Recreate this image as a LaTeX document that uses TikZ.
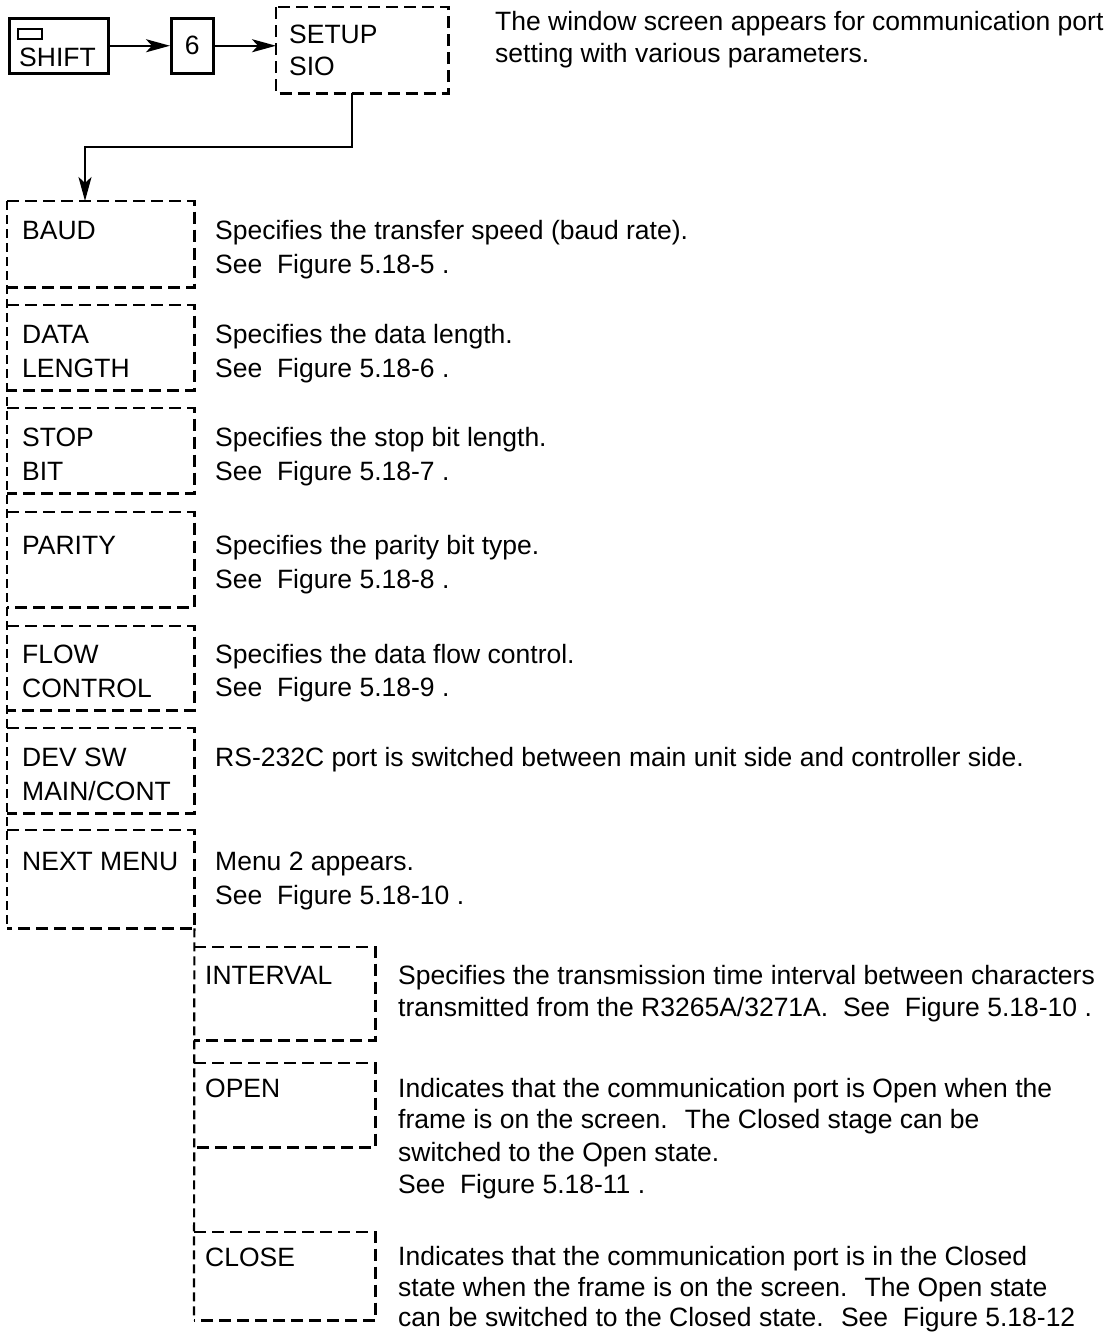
\documentclass[tikz,border=0pt]{standalone}
\usepackage{fontspec}
\setmainfont{Liberation Sans}
\usetikzlibrary{arrows.meta}
\begin{document}
\begin{tikzpicture}[x=1pt,y=-1pt,
  dsh/.style={line width=2.4pt, dash pattern=on 12pt off 6pt},
  trunk/.style={line width=2.2pt, dash pattern=on 9pt off 5pt},
  solidbox/.style={draw, line width=2.5pt, inner sep=0pt, anchor=north west},
  boxarea/.style={inner sep=0pt, anchor=north west},
  txt/.style={anchor=base west, inner sep=0pt, font=\fontsize{26.5}{33}\selectfont},
  arr/.style={line width=2.5pt, -{Stealth[length=24pt,width=13pt,inset=6pt]}}]

\fill[white] (0,0) rectangle (1112,1333);
\useasboundingbox (0,0) rectangle (1112,1333);

% ---------- top row ----------
\node[solidbox, minimum width=99pt, minimum height=55pt] (shift) at (8,17) {};
\draw[line width=2.5pt] (18,29) rectangle (42,39);
\node[txt] (shifttxt) at (19,66) {SHIFT};

\node[solidbox, minimum width=42pt, minimum height=55pt, font=\fontsize{26.5}{33}\selectfont] (six) at (170,17) {6};

\node[boxarea, minimum width=172pt, minimum height=86pt] (setup) at (276,7) {};
\draw[dsh] (setup.north west) rectangle (setup.south east);
\node[txt] (setupa) at (289,43) {SETUP};
\node[txt] (setupb) at (289,75) {SIO};

\node[txt] (topa) at (495,30) {The window screen appears for communication port};
\node[txt] (topb) at (495,62) {setting with various parameters.};

\draw[arr] (shift.east) -- (six.west);
\draw[arr] (six.east) -- (six.east -| setup.west);

% ---------- column 1 ----------
\node[boxarea, minimum width=187pt, minimum height=86pt] (baud) at (7,201) {};
\node[boxarea, minimum width=187pt, minimum height=85pt] (data) at (7,305) {};
\node[boxarea, minimum width=187pt, minimum height=85pt] (stop) at (7,408) {};
\node[boxarea, minimum width=187pt, minimum height=95pt] (parity) at (7,512) {};
\node[boxarea, minimum width=187pt, minimum height=84pt] (flow) at (7,626) {};
\node[boxarea, minimum width=187pt, minimum height=85pt] (dev) at (7,728) {};
\node[boxarea, minimum width=187pt, minimum height=98pt] (next) at (7,830) {};

\foreach \b in {baud,data,stop,parity,flow,dev,next}
  \draw[dsh] (\b.north west) -- (\b.north east) -- (\b.south east) -- (\b.south west);
\draw[trunk] (baud.north west) -- (next.south west);

\coordinate (bend) at (85,147);
\draw[arr] ([xshift=-10pt]setup.south) |- (bend) -- (bend |- baud.north);

\node[txt] (l1) at (22,239) {BAUD};
\node[txt] (l2a) at (22,343) {DATA};
\node[txt] (l2b) at (22,377) {LENGTH};
\node[txt] (l3a) at (22,446) {STOP};
\node[txt] (l3b) at (22,480) {BIT};
\node[txt] (l4) at (22,554) {PARITY};
\node[txt] (l5a) at (22,663) {FLOW};
\node[txt] (l5b) at (22,697) {CONTROL};
\node[txt] (l6a) at (22,766) {DEV SW};
\node[txt] (l6b) at (22,800) {MAIN/CONT};
\node[txt] (l7) at (22,870) {NEXT MENU};

\node[txt] (d1a) at (215,239) {Specifies the transfer speed (baud rate).};
\node[txt] (d1b) at (215,273) {See~ Figure 5.18-5 .};
\node[txt] (d2a) at (215,343) {Specifies the data length.};
\node[txt] (d2b) at (215,377) {See~ Figure 5.18-6 .};
\node[txt] (d3a) at (215,446) {Specifies the stop bit length.};
\node[txt] (d3b) at (215,480) {See~ Figure 5.18-7 .};
\node[txt] (d4a) at (215,554) {Specifies the parity bit type.};
\node[txt] (d4b) at (215,588) {See~ Figure 5.18-8 .};
\node[txt] (d5a) at (215,663) {Specifies the data flow control.};
\node[txt] (d5b) at (215,696) {See~ Figure 5.18-9 .};
\node[txt] (d6) at (215,766) {RS-232C port is switched between main unit side and controller side.};
\node[txt] (d7a) at (215,870) {Menu 2 appears.};
\node[txt] (d7b) at (215,904) {See~ Figure 5.18-10 .};

% ---------- column 2 ----------
\node[boxarea, minimum width=181pt, minimum height=93pt] (interval) at (194,947) {};
\node[boxarea, minimum width=181pt, minimum height=84pt] (open) at (194,1063) {};
\node[boxarea, minimum width=181pt, minimum height=88pt] (close) at (194,1232) {};
\foreach \b in {interval,open,close}
  \draw[dsh] (\b.north west) -- (\b.north east) -- (\b.south east) -- (\b.south west);
\draw[trunk] (next.south east) -- (close.south west);

\node[txt] (m1) at (205,984) {INTERVAL};
\node[txt] (m2) at (205,1097) {OPEN};
\node[txt] (m3) at (205,1266) {CLOSE};

\node[txt] (e1a) at (398,984) {Specifies the transmission time interval between characters};
\node[txt] (e1b) at (398,1016) {transmitted from the R3265A/3271A.~ See~ Figure 5.18-10 .};
\node[txt] (e2a) at (398,1097) {Indicates that the communication port is Open when the};
\node[txt] (e2b) at (398,1128) {frame is on the screen.~ The Closed stage can be};
\node[txt] (e2c) at (398,1161) {switched to the Open state.};
\node[txt] (e2d) at (398,1193) {See~ Figure 5.18-11 .};
\node[txt] (e3a) at (398,1265) {Indicates that the communication port is in the Closed};
\node[txt] (e3b) at (398,1296) {state when the frame is on the screen.~ The Open state};
\node[txt] (e3c) at (398,1326) {can be switched to the Closed state.~ See~ Figure 5.18-12};
\end{tikzpicture}
\end{document}
